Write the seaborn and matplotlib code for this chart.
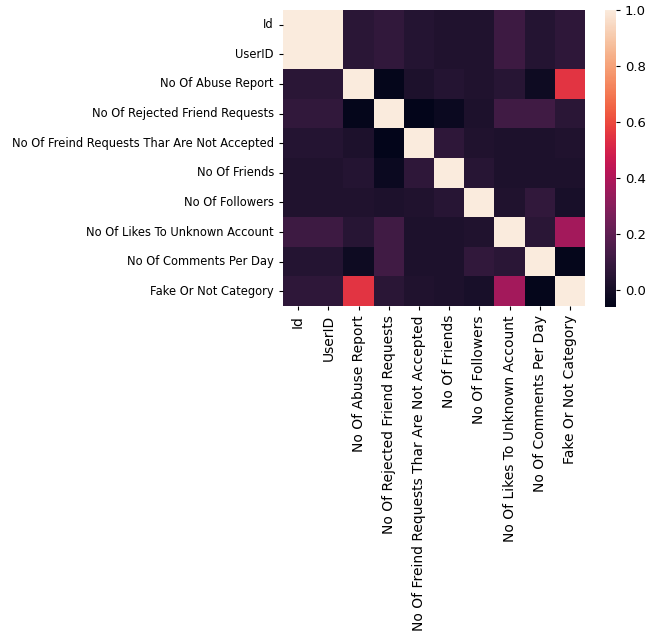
import numpy as np
import pandas as pd
import matplotlib
matplotlib.use("Agg")
import matplotlib.pyplot as plt
import seaborn as sns

columns = [
    "Id",
    "UserID",
    "No Of Abuse Report",
    "No Of Rejected Friend Requests",
    "No Of Freind Requests Thar Are Not Accepted",
    "No Of Friends",
    "No Of Followers",
    "No Of Likes To Unknown Account",
    "No Of Comments Per Day",
    "Fake Or Not Category",
]

# Pairwise correlation coefficients (upper triangle incl. diagonal, row by row)
row_id        = [1.00, 1.00, 0.06, 0.08, 0.04, 0.03, 0.03, 0.11, 0.04, 0.07]
row_userid    = [1.00, 0.06, 0.08, 0.04, 0.03, 0.03, 0.11, 0.04, 0.07]
row_abuse     = [1.00, -0.05, 0.02, 0.04, 0.03, 0.05, -0.02, 0.55]
row_rejected  = [1.00, -0.06, -0.03, 0.02, 0.12, 0.12, 0.06]
row_notaccept = [1.00, 0.07, 0.03, 0.02, 0.02, 0.03]
row_friends   = [1.00, 0.05, 0.02, 0.02, 0.02]
row_followers = [1.00, 0.03, 0.08, 0.01]
row_likes     = [1.00, 0.06, 0.37]
row_comments  = [1.00, -0.05]
row_fake      = [1.00]

upper_rows = [row_id, row_userid, row_abuse, row_rejected, row_notaccept,
              row_friends, row_followers, row_likes, row_comments, row_fake]

n = len(columns)
corr = np.zeros((n, n))
for i, vals in enumerate(upper_rows):
    for k, v in enumerate(vals):
        j = i + k
        corr[i, j] = v
        corr[j, i] = v

df = pd.DataFrame(corr, index=columns, columns=columns)

plt.rcParams["font.family"] = ["DejaVu Sans"]

fig = plt.figure(figsize=(6.56, 6.34), dpi=100)
W, H = 656, 634
ax = fig.add_axes([283 / W, 1 - 306 / H, 302 / W, 296 / H])
cax = fig.add_axes([605 / W, 1 - 307 / H, 11 / W, 297 / H])

sns.heatmap(df, ax=ax, cbar_ax=cax, cmap="rocket")

ax.tick_params(axis="both", length=3)
ax.tick_params(axis="x", labelrotation=90)
ax.tick_params(axis="y", labelrotation=0)
for lbl in ax.get_yticklabels():
    lbl.set_fontsize(8.3)
for lbl in ax.get_xticklabels():
    lbl.set_fontsize(10)
cax.tick_params(labelsize=9.5, length=3)

fig.savefig("out.png", dpi=100, facecolor="white")
